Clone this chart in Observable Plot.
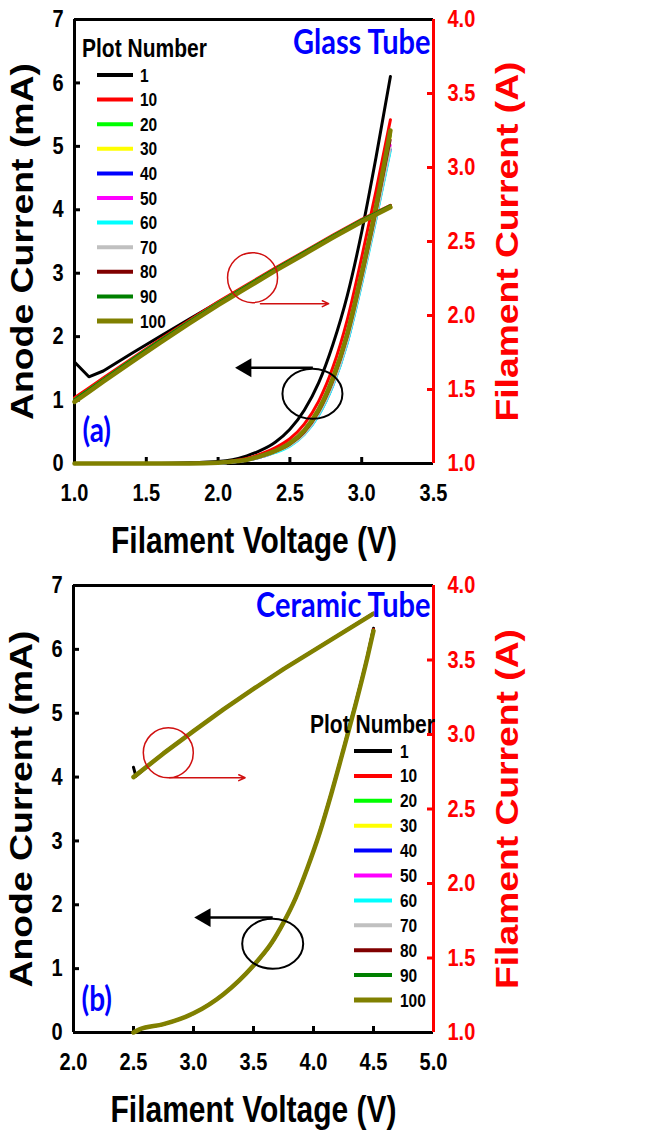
<!DOCTYPE html>
<html><head><meta charset="utf-8">
<script src="https://cdn.jsdelivr.net/npm/d3@7"></script>
<script src="https://cdn.jsdelivr.net/npm/@observablehq/plot@0.6"></script>
<style>
body{margin:0;background:#fff;}
.panel{position:relative;width:649px;height:567px;overflow:visible;}
.panel svg.leg{position:absolute;left:0;top:0;overflow:visible;pointer-events:none;}
</style></head><body><div id="root"></div>
<script>
// ---------- legend ----------
const plotNumbers = ["1","10","20","30","40","50","60","70","80","90","100"];
const plotColors  = ["#000000","#ff0000","#00ff00","#ffff00","#0000ff","#ff00ff","#00ffff","#c0c0c0","#800000","#008000","#808000"];

// ---------- (a) Glass tube ----------
const glassV = [1.0,1.2,1.4,1.6,1.8,2.0,2.1,2.2,2.3,2.4,2.5,2.6,2.7,2.8,2.9,3.0,3.1,3.2];
const glassAnode1   = [0,0,0,0,0.01,0.03,0.06,0.12,0.21,0.34,0.54,0.84,1.27,1.88,2.65,3.65,4.83,6.10];
const glassAnode10  = [0,0,0,0,0,0.01,0.04,0.08,0.15,0.25,0.39,0.62,0.98,1.52,2.27,3.25,4.30,5.42];
const glassAnode20  = [0,0,0,0,0,0.01,0.03,0.06,0.12,0.20,0.32,0.52,0.85,1.35,2.05,3.00,4.03,5.20];
const glassAnode30  = [0,0,0,0,0,0.01,0.03,0.06,0.12,0.20,0.31,0.50,0.83,1.32,2.02,2.97,4.00,5.15];
const glassAnode40  = [0,0,0,0,0,0,0.02,0.05,0.10,0.18,0.28,0.46,0.76,1.23,1.90,2.84,3.86,4.95];
const glassAnode50  = [0,0,0,0,0,0,0.02,0.05,0.10,0.18,0.29,0.47,0.78,1.26,1.95,2.88,3.90,5.02];
const glassAnode60  = [0,0,0,0,0,0,0.02,0.05,0.10,0.17,0.27,0.45,0.75,1.22,1.89,2.82,3.84,4.92];
const glassAnode70  = [0,0,0,0,0,0,0.02,0.05,0.10,0.18,0.28,0.46,0.77,1.24,1.92,2.85,3.87,4.97];
const glassAnode80  = [0,0,0,0,0,0.01,0.03,0.06,0.11,0.19,0.30,0.49,0.81,1.30,1.99,2.93,3.96,5.10];
const glassAnode90  = [0,0,0,0,0,0.01,0.03,0.06,0.12,0.20,0.31,0.51,0.84,1.34,2.04,2.99,4.03,5.18];
const glassAnode100 = [0,0,0,0,0,0.01,0.03,0.06,0.12,0.20,0.32,0.52,0.85,1.35,2.05,3.00,4.05,5.25];

const glassFV = [1.0,1.1,1.2,1.4,1.6,1.8,2.0,2.2,2.4,2.6,2.8,3.0,3.2];
const glassFil1   = [1.686,1.586,1.625,1.745,1.862,1.976,2.090,2.200,2.315,2.425,2.537,2.645,2.742];
const glassFil10  = [1.445,1.510,1.578,1.710,1.842,1.968,2.092,2.207,2.322,2.432,2.543,2.650,2.745];
const glassFil20  = [1.435,1.502,1.570,1.704,1.836,1.963,2.087,2.203,2.318,2.429,2.540,2.647,2.743];
const glassFil30  = [1.430,1.498,1.566,1.700,1.832,1.959,2.083,2.199,2.315,2.426,2.537,2.644,2.741];
const glassFil40  = [1.428,1.496,1.564,1.698,1.830,1.957,2.081,2.197,2.313,2.424,2.535,2.642,2.739];
const glassFil50  = [1.429,1.497,1.565,1.699,1.831,1.958,2.082,2.198,2.314,2.425,2.536,2.643,2.740];
const glassFil60  = [1.427,1.495,1.563,1.697,1.829,1.956,2.080,2.196,2.312,2.423,2.534,2.641,2.738];
const glassFil70  = [1.428,1.496,1.564,1.698,1.830,1.957,2.081,2.197,2.313,2.424,2.535,2.642,2.739];
const glassFil80  = [1.430,1.498,1.566,1.700,1.832,1.959,2.083,2.199,2.315,2.426,2.537,2.644,2.741];
const glassFil90  = [1.433,1.500,1.568,1.702,1.834,1.961,2.085,2.201,2.317,2.428,2.539,2.646,2.742];
const glassFil100 = [1.416,1.484,1.553,1.686,1.819,1.947,2.071,2.187,2.303,2.414,2.526,2.633,2.731];

// ---------- (b) Ceramic tube ----------
const ceramicV = [2.5,2.55,2.75,3.0,3.25,3.5,3.65,3.75,3.85,3.95,4.05,4.15,4.25,4.35,4.45,4.5];
const ceramicAnode1   = [0,0.05,0.13,0.30,0.60,1.05,1.40,1.72,2.10,2.58,3.13,3.76,4.44,5.15,5.90,6.33];
const ceramicAnode10  = [0,0.05,0.13,0.30,0.60,1.05,1.40,1.72,2.10,2.58,3.12,3.75,4.43,5.14,5.89,6.31];
const ceramicAnode20  = [0,0.05,0.13,0.30,0.60,1.05,1.40,1.72,2.10,2.58,3.12,3.75,4.43,5.13,5.88,6.29];
const ceramicAnode30  = [0,0.05,0.13,0.30,0.60,1.05,1.40,1.72,2.10,2.58,3.12,3.75,4.43,5.13,5.88,6.29];
const ceramicAnode40  = [0,0.05,0.13,0.30,0.60,1.04,1.39,1.71,2.09,2.57,3.11,3.74,4.42,5.12,5.87,6.28];
const ceramicAnode50  = [0,0.05,0.13,0.30,0.60,1.04,1.39,1.71,2.09,2.57,3.11,3.74,4.42,5.12,5.87,6.28];
const ceramicAnode60  = [0,0.04,0.13,0.30,0.60,1.04,1.39,1.71,2.09,2.57,3.11,3.74,4.42,5.12,5.87,6.28];
const ceramicAnode70  = [0,0.05,0.13,0.30,0.60,1.04,1.39,1.71,2.09,2.57,3.11,3.74,4.42,5.12,5.87,6.28];
const ceramicAnode80  = [0,0.05,0.13,0.30,0.60,1.05,1.40,1.72,2.10,2.58,3.12,3.75,4.43,5.13,5.88,6.29];
const ceramicAnode90  = [0,0.05,0.13,0.30,0.60,1.05,1.40,1.72,2.10,2.58,3.12,3.75,4.43,5.13,5.88,6.29];
const ceramicAnode100 = [0,0.05,0.13,0.30,0.60,1.05,1.40,1.72,2.10,2.58,3.12,3.75,4.43,5.13,5.88,6.29];

const ceramicFV1 = [2.5,2.52,2.75,3.0,3.25,3.5,3.75,4.0,4.25,4.5];
const ceramicFil1 = [2.780,2.720,2.875,3.024,3.170,3.307,3.440,3.564,3.688,3.813];
const ceramicFV = [2.5,2.75,3.0,3.25,3.5,3.75,4.0,4.25,4.5];
const ceramicFil10  = [2.715,2.874,3.024,3.170,3.307,3.440,3.564,3.688,3.812];
const ceramicFil20  = [2.714,2.873,3.023,3.169,3.306,3.439,3.563,3.687,3.811];
const ceramicFil30  = [2.714,2.873,3.023,3.169,3.306,3.439,3.563,3.687,3.811];
const ceramicFil40  = [2.713,2.872,3.022,3.168,3.305,3.438,3.562,3.686,3.810];
const ceramicFil50  = [2.714,2.873,3.023,3.169,3.306,3.439,3.563,3.687,3.811];
const ceramicFil60  = [2.713,2.872,3.022,3.168,3.305,3.438,3.562,3.686,3.810];
const ceramicFil70  = [2.714,2.873,3.023,3.169,3.306,3.439,3.563,3.687,3.811];
const ceramicFil80  = [2.714,2.873,3.023,3.169,3.306,3.439,3.563,3.687,3.811];
const ceramicFil90  = [2.714,2.873,3.023,3.169,3.306,3.439,3.563,3.687,3.811];
const ceramicFil100 = [2.714,2.873,3.023,3.169,3.306,3.439,3.563,3.687,3.811];

// ---------- axes tick labels ----------
const anodeTicks = [0,1,2,3,4,5,6,7];
const filamentTicks = [1.0,1.5,2.0,2.5,3.0,3.5,4.0];
const glassVoltTicks = [1.0,1.5,2.0,2.5,3.0,3.5];
const ceramicVoltTicks = [2.0,2.5,3.0,3.5,4.0,4.5,5.0];

// ---------- annotations (data coordinates) ----------
const glassCircle = [{v: 2.24, mA: 2.93}];
const glassRedArrow = [{v1: 2.295, v2: 2.77, mA: 2.52}];
const glassEllipse = [{v: 2.657, mA: 1.10}];
const glassBlackArrow = [{v1: 2.66, v2: 2.18, mA: 1.51}];
const ceramicCircle = [{v: 2.79, mA: 4.38}];
const ceramicRedArrow = [{v1: 2.80, v2: 3.43, mA: 3.99}];
const ceramicEllipse = [{v: 3.66, mA: 1.39}];
const ceramicBlackArrow = [{v1: 3.66, v2: 3.08, mA: 1.80}];

// ---------- helpers ----------
const FONT = "'Liberation Sans', Arial, Helvetica, sans-serif";
const toLeft = a => (a - 1) * 7 / 3;   // filament current (A) -> anode axis units
const fromLeft = y => y * 3 / 7 + 1;
const STRETCH = 1.2;
const ROTATED = {"Anode Current (mA)": 357, "Filament Current (A)": 360};

const ellipseSymbol = ratio => ({
  draw(ctx, size) {
    const ry = Math.sqrt(size / Math.PI), rx = ry * ratio, k = 0.5523;
    ctx.moveTo(rx, 0);
    ctx.bezierCurveTo(rx, k * ry, k * rx, ry, 0, ry);
    ctx.bezierCurveTo(-k * rx, ry, -rx, k * ry, -rx, 0);
    ctx.bezierCurveTo(-rx, -k * ry, -k * rx, -ry, 0, -ry);
    ctx.bezierCurveTo(k * rx, -ry, rx, -k * ry, rx, 0);
    ctx.closePath();
  }
});

function stretchTexts(root) {
  root.querySelectorAll("text").forEach(t => {
    const content = t.textContent;
    if (ROTATED[content]) {
      t.setAttribute("textLength", ROTATED[content]);
      t.setAttribute("lengthAdjust", "spacingAndGlyphs");
      return;
    }
    const tr = t.getAttribute("transform");
    if (tr && tr.includes("translate(")) {
      t.setAttribute("transform", tr.replace(/translate\(([^)]*)\)/, `translate($1) scale(1,${STRETCH})`));
    } else {
      const x = +t.getAttribute("x") || 0, y = +t.getAttribute("y") || 0;
      t.removeAttribute("x"); t.removeAttribute("y");
      t.setAttribute("transform", `translate(${x},${y}) scale(1,${STRETCH})${tr ? " " + tr : ""}`);
    }
  });
}

function lineWidth(i) { return i <= 1 ? 3 : i === 10 ? 4.5 : 2.4; }

function panel(cfg) {
  const fw = 649 - cfg.ml - cfg.mr, fh = cfg.h - cfg.mt - cfg.mb;
  const [x0, x1] = cfg.xDomain;
  const marks = [
    Plot.ruleY([0], {stroke: "black", strokeWidth: 3}),
    Plot.ruleY([7], {stroke: "black", strokeWidth: 3}),
    Plot.ruleX([x0], {stroke: "black", strokeWidth: 3}),
    Plot.ruleX([x1], {stroke: "red", strokeWidth: 3, y1: 0, y2: 7}),
    Plot.tickY(anodeTicks.slice(1, -1), {y: d => d, stroke: "black", strokeWidth: 3, insetRight: fw - 6}),
    Plot.tickY(filamentTicks.slice(1, -1).map(toLeft), {y: d => d, stroke: "red", strokeWidth: 3, insetLeft: fw - 6}),
    Plot.tickX(cfg.xTicks.slice(1, -1), {x: d => d, stroke: "black", strokeWidth: 3, insetTop: fh - 6}),
    Plot.axisY(anodeTicks, {anchor: "left", tickSize: 0, tickPadding: 11, label: null, fontSize: 20, fontWeight: "bold", tickFormat: d => String(d)}),
    Plot.axisY(filamentTicks.map(toLeft), {anchor: "right", tickSize: 0, tickPadding: 14, label: null, fontSize: 20, fontWeight: "bold", fill: "red", tickFormat: d => fromLeft(d).toFixed(1)}),
    Plot.axisX(cfg.xTicks, {anchor: "bottom", tickSize: 0, tickPadding: 20, label: null, fontSize: 20, fontWeight: "bold", tickFormat: d => d.toFixed(1)}),
  ];
  cfg.anode.forEach((vals, i) => {
    const rows = vals.map((mA, j) => ({v: cfg.anodeV[j], mA}));
    marks.push(Plot.line(rows, {x: "v", y: "mA", stroke: plotColors[i], strokeWidth: lineWidth(i), curve: "monotone-x"}));
  });
  cfg.fil.forEach((vals, i) => {
    const vv = cfg.filV[i];
    const rows = vals.map((a, j) => ({v: vv[j], mA: toLeft(a)}));
    marks.push(Plot.line(rows, {x: "v", y: "mA", stroke: plotColors[i], strokeWidth: lineWidth(i), curve: "linear"}));
  });
  marks.push(
    Plot.dot(cfg.circle, {x: "v", y: "mA", r: 25, stroke: "#d01010", strokeWidth: 1.5, fill: "none"}),
    Plot.arrow(cfg.redArrow, {x1: "v1", x2: "v2", y1: "mA", y2: "mA", stroke: "#d01010", strokeWidth: 1.5, headLength: 7, headAngle: 50}),
    Plot.dot(cfg.ellipse, {x: "v", y: "mA", r: 25, symbol: ellipseSymbol(cfg.ellipseRatio), stroke: "black", strokeWidth: 2, fill: "none"}),
    Plot.link(cfg.blackArrow, {x1: "v1", x2: "v2", y1: "mA", y2: "mA", stroke: "black", strokeWidth: 2.5}),
    Plot.dot(cfg.blackArrow, {x: "v2", y: "mA", symbol: "triangle", r: 7, rotate: -90, fill: "black", stroke: "none", dx: 2}),
  );
  marks.push(
    Plot.text([cfg.tag], {frameAnchor: "top-right", textAnchor: "end", dx: -3, dy: cfg.tagDy, fill: "#0000ff", fontSize: 29, fontWeight: "bold", fontFamily: "Lato, 'Open Sans', sans-serif"}),
    Plot.text([cfg.letter], {frameAnchor: "bottom-left", textAnchor: "start", dx: 8, dy: -22, fill: "#0000ff", fontSize: 28, fontWeight: "bold", fontFamily: "Lato, 'Open Sans', sans-serif"}),
    Plot.text(["Filament Voltage (V)"], {frameAnchor: "bottom", textAnchor: "middle", dy: 89, fontSize: 30, fontWeight: "bold", fill: "black"}),
    Plot.text(["Anode Current (mA)"], {frameAnchor: "left", textAnchor: "middle", rotate: -90, dx: -51, fontSize: 31, fontWeight: "bold", fill: "black"}),
    Plot.text(["Filament Current (A)"], {frameAnchor: "right", textAnchor: "middle", rotate: -90, dx: 75, fontSize: 31, fontWeight: "bold", fill: "red"}),
  );
  const chart = Plot.plot({
    width: 649, height: cfg.h,
    marginLeft: cfg.ml, marginRight: cfg.mr, marginTop: cfg.mt, marginBottom: cfg.mb,
    x: {domain: cfg.xDomain, axis: null},
    y: {domain: [0, 7], axis: null},
    style: {fontFamily: FONT, fontWeight: "bold", fontSize: "20px", color: "black", background: "white", overflow: "visible"},
    marks
  });
  stretchTexts(chart);
  const div = document.createElement("div");
  div.className = "panel";
  div.style.height = cfg.h + "px";
  div.appendChild(chart);
  const L = cfg.legend;
  const svg = d3.create("svg").attr("class", "leg").attr("width", 649).attr("height", cfg.h)
    .style("font-family", FONT).style("font-weight", "bold");
  svg.append("text").attr("x", L.titleX).attr("y", L.titleY).attr("font-size", 21).attr("fill", "black").text("Plot Number");
  plotNumbers.forEach((n, i) => {
    const y = L.y0 + i * L.step;
    svg.append("line").attr("x1", L.lx1).attr("x2", L.lx2).attr("y1", y).attr("y2", y)
      .attr("stroke", plotColors[i]).attr("stroke-width", i === 10 ? 5 : 4);
    svg.append("text").attr("x", L.tx).attr("y", y + 6.5).attr("font-size", 15.5).attr("fill", "black").text(n);
  });
  stretchTexts(svg.node());
  div.appendChild(svg.node());
  return div;
}

const root = document.getElementById("root");
root.appendChild(panel({
  h: 567, ml: 74, mr: 216, mt: 19, mb: 104,
  xDomain: [1, 3.5], xTicks: glassVoltTicks,
  anodeV: glassV,
  anode: [glassAnode1, glassAnode10, glassAnode20, glassAnode30, glassAnode40, glassAnode50, glassAnode60, glassAnode70, glassAnode80, glassAnode90, glassAnode100],
  filV: plotNumbers.map(() => glassFV),
  fil: [glassFil1, glassFil10, glassFil20, glassFil30, glassFil40, glassFil50, glassFil60, glassFil70, glassFil80, glassFil90, glassFil100],
  circle: glassCircle, redArrow: glassRedArrow, ellipse: glassEllipse, ellipseRatio: 1.2, blackArrow: glassBlackArrow,
  tag: "Glass Tube", tagDy: 10, letter: "(a)",
  legend: {titleX: 82, titleY: 57, lx1: 97, lx2: 133, tx: 140, y0: 75, step: 24.6}
}));
root.appendChild(panel({
  h: 567, ml: 73, mr: 216, mt: 18, mb: 102,
  xDomain: [2, 5], xTicks: ceramicVoltTicks,
  anodeV: ceramicV,
  anode: [ceramicAnode1, ceramicAnode10, ceramicAnode20, ceramicAnode30, ceramicAnode40, ceramicAnode50, ceramicAnode60, ceramicAnode70, ceramicAnode80, ceramicAnode90, ceramicAnode100],
  filV: plotNumbers.map((n, i) => i === 0 ? ceramicFV1 : ceramicFV),
  fil: [ceramicFil1, ceramicFil10, ceramicFil20, ceramicFil30, ceramicFil40, ceramicFil50, ceramicFil60, ceramicFil70, ceramicFil80, ceramicFil90, ceramicFil100],
  circle: ceramicCircle, redArrow: ceramicRedArrow, ellipse: ceramicEllipse, ellipseRatio: 1.22, blackArrow: ceramicBlackArrow,
  tag: "Ceramic Tube", tagDy: 7, letter: "(b)",
  legend: {titleX: 310, titleY: 166, lx1: 354, lx2: 392, tx: 400, y0: 184, step: 24.9}
}));
</script></body></html>
